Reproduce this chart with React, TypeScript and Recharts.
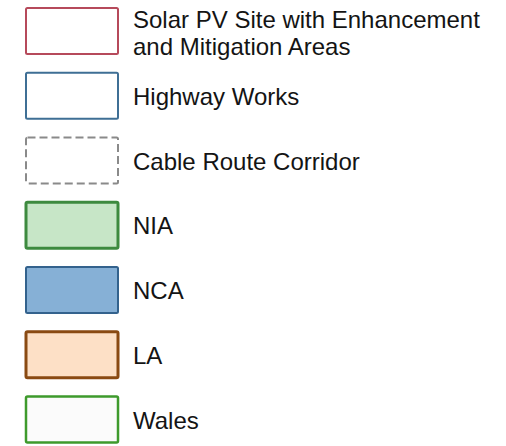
import React from "react";
import { ScatterChart, Scatter, XAxis, YAxis } from "recharts";

// Legend entries (top to bottom)
const labels: string[] = [
  "Solar PV Site with Enhancement|and Mitigation Areas",
  "Highway Works",
  "Cable Route Corridor",
  "NIA",
  "NCA",
  "LA",
  "Wales",
];
const rows: number[] = [0, 1, 2, 3, 4, 5, 6];
const column: number[] = [0, 0, 0, 0, 0, 0, 0];

const swatchStyles: Record<string, { stroke: string; fill: string; sw: number; dash?: string }> = {
  "Solar PV Site with Enhancement|and Mitigation Areas": { stroke: "#b64a5b", fill: "#ffffff", sw: 2 },
  "Highway Works": { stroke: "#3f6f95", fill: "#ffffff", sw: 2 },
  "Cable Route Corridor": { stroke: "#8a8a8a", fill: "#ffffff", sw: 2, dash: "8 4" },
  NIA: { stroke: "#3d8a3f", fill: "#c7e6c7", sw: 3 },
  NCA: { stroke: "#33628d", fill: "#86b0d6", sw: 2 },
  LA: { stroke: "#8a4a12", fill: "#fde0c6", sw: 3 },
  Wales: { stroke: "#3e9a2c", fill: "#fbfbfb", sw: 2.5 },
};

const data = labels.map((name, i) => ({ name, x: column[i], y: rows[i] }));

const Swatch = (props: any) => {
  const { cx, cy, payload } = props;
  const st = swatchStyles[payload.name];
  const lines: string[] = String(payload.name).split("|");
  const w = 92;
  const h = 46;
  const lh = 27.5;
  const shift = lines.length > 1 ? 1.5 : 0;
  return (
    <g>
      <rect
        x={cx - w / 2}
        y={cy - h / 2}
        width={w}
        height={h}
        rx={1.5}
        fill={st.fill}
        stroke={st.stroke}
        strokeWidth={st.sw}
        strokeDasharray={st.dash}
      />
      <text
        x={cx + 61}
        fontFamily="'Liberation Sans', Arial, sans-serif"
        fontSize={24}
        fill="#141414"
      >
        {lines.map((ln, k) => (
          <tspan key={k} x={cx + 61} y={cy + 9 + (k - (lines.length - 1) / 2) * lh + shift}>
            {ln}
          </tspan>
        ))}
      </text>
    </g>
  );
};

export default function App() {
  return (
    <div style={{ position: "absolute", left: 0, top: 0, width: 506, height: 446, background: "#fff" }}>
      <ScatterChart width={506} height={446} margin={{ top: 31, right: 10, bottom: 26.5, left: 72 }}>
        <XAxis type="number" dataKey="x" domain={[0, 1]} hide />
        <YAxis type="number" dataKey="y" domain={[0, 6]} reversed hide />
        <Scatter data={data} shape={Swatch} isAnimationActive={false} />
      </ScatterChart>
    </div>
  );
}
